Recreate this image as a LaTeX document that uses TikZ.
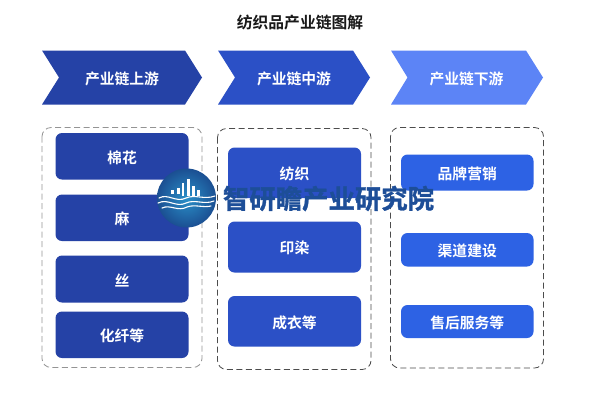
\documentclass[tikz,border=0pt]{standalone}
\usepackage{fontspec}
\setmainfont{Noto Sans CJK SC}[BoldFont={* Bold}]
\newfontfamily\wmfont{Noto Sans CJK SC Bold}[FakeBold=1.2]
\usetikzlibrary{shadings}
\definecolor{cA}{HTML}{2542A6}
\definecolor{cB}{HTML}{2B50C6}
\definecolor{cC}{HTML}{2D62E4}
\definecolor{cD}{HTML}{5C84F6}
\definecolor{wm}{HTML}{1D4E98}
\definecolor{lgA}{HTML}{2A90C8}
\definecolor{lgB}{HTML}{1B4F92}
\tikzset{
  x=1pt,y=-1pt,
  lab/.style={text=white,font=\bfseries\fontsize{14.8pt}{16pt}\selectfont,inner sep=0pt},
  item/.style={rounded corners=6.5pt,draw=none},
  frame/.style={rounded corners=9pt,dash pattern=on 6pt off 3.5pt,line width=0.8pt},
  wave/.style={draw=white,line width=1.1pt,line cap=round},
  bar/.style={fill=white,draw=none}
}
\newcommand{\itembox}[7]{%
  \fill[item,#7] (#1,#2) rectangle (#3,#4);
  \node[lab] (#5) at ({(#1+#3)/2},{(#2+#4)/2+1.2}) {#6};
}
\begin{document}
\begin{tikzpicture}
\useasboundingbox (0,0) rectangle (601,400);
\fill[white] (0,0) rectangle (601,400);
\node[inner sep=0pt,font=\bfseries\fontsize{15.8pt}{17pt}\selectfont,text=black!90] (title) at (300,23) {纺织品产业链图解};
% chevrons
\fill[cA] (42,50.5) -- (185,50.5) -- (202,77.5) -- (185,104.5) -- (42,104.5) -- (59,77.5) -- cycle;
\node[lab] (h1) at (122,78.5) {产业链上游};
\fill[cB] (218,50.5) -- (353,50.5) -- (370,77.5) -- (353,104.5) -- (218,104.5) -- (235,77.5) -- cycle;
\node[lab] (h2) at (294,78.5) {产业链中游};
\fill[cD] (391,50.5) -- (526,50.5) -- (543,77.5) -- (526,104.5) -- (391,104.5) -- (407.5,77.5) -- cycle;
\node[lab] (h3) at (466.5,78.5) {产业链下游};
% frames
\draw[frame,draw=black!42] (42,127.5) rectangle (202,367.5);
\draw[frame,draw=black!70] (217.5,128.5) rectangle (371,369.5);
\draw[frame,draw=black!70] (390.5,127.5) rectangle (543.5,368);
% column 1
\itembox{55.5}{133}{188.5}{179.5}{a1}{棉花}{fill=cA}
\itembox{55.5}{194.5}{188.5}{241}{a2}{麻}{fill=cA}
\itembox{55.5}{255.5}{188.5}{302.5}{a3}{丝}{fill=cA}
\itembox{55.5}{311.5}{188.5}{358}{a4}{化纤等}{fill=cA}
% column 2
\itembox{228}{147.5}{361}{198}{b1}{纺织}{fill=cB}
\itembox{228}{221.5}{361}{272.5}{b2}{印染}{fill=cB}
\itembox{228}{296}{361}{346.5}{b3}{成衣等}{fill=cB}
% column 3
\itembox{401}{154.5}{533.5}{190.5}{c1}{品牌营销}{fill=cC}
\itembox{401}{233}{533.5}{266.5}{c2}{渠道建设}{fill=cC}
\itembox{401}{305}{533.5}{338}{c3}{售后服务等}{fill=cC}
% watermark logo
\shade[inner color=lgA,outer color=lgB] (186.5,198) circle (29.5);
\fill[bar] (171,190) rectangle (174,193.5);
\fill[bar] (177,188) rectangle (180,193.5);
\fill[bar] (182,183) rectangle (184,196);
\fill[bar] (187,179) rectangle (189.5,196);
\fill[bar] (192,186) rectangle (195,196);
\fill[bar] (197,190) rectangle (200,196);
\draw[wave] (159,198) .. controls (168,193) and (176,203) .. (186,198) .. controls (195,194) and (204,200) .. (215,196);
\draw[wave] (158,203) .. controls (168,198) and (176,208) .. (186,203) .. controls (195,199) and (204,205) .. (214,201);
\draw[wave] (162,208) .. controls (170,204) and (178,212) .. (187,207) .. controls (195,204) and (203,208) .. (211,206);
% watermark text
\node[inner sep=0pt,text=wm,font=\wmfont\fontsize{26.4pt}{28pt}\selectfont] (wmark) at (328.5,198.5) {智研瞻产业研究院};
\end{tikzpicture}
\end{document}
